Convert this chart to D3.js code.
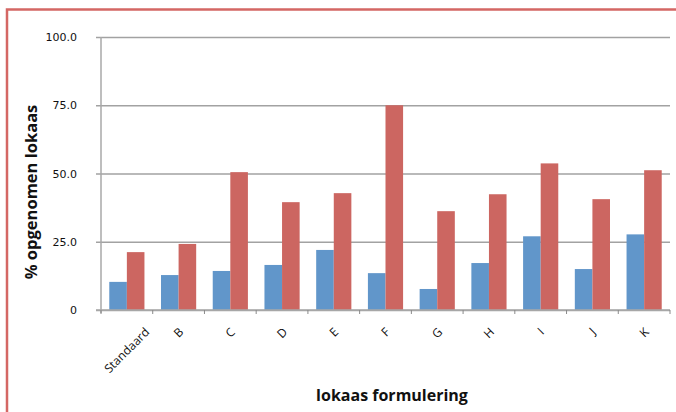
<!DOCTYPE html>
<html>
<head>
<meta charset="utf-8">
<script src="https://cdn.jsdelivr.net/npm/d3@7"></script>
<style>
  html, body { margin: 0; padding: 0; background: #fff; }
  svg { display: block; }
</style>
</head>
<body>
<div id="chart"></div>
<script>
// categories and series
const CATEGORIES = ["Standaard","B","C","D","E","F","G","H","I","J","K"];
const SERIES_BLUE = [10.3, 12.8, 14.3, 16.5, 22.0, 13.5, 7.7, 17.2, 27.0, 15.0, 27.7];
const SERIES_RED  = [21.2, 24.2, 50.5, 39.5, 42.8, 75.0, 36.2, 42.4, 53.7, 40.6, 51.2];
const Y_TICKS     = [0, 25, 50, 75, 100];
const Y_TICK_TEXT = ["0", "25.0", "50.0", "75.0", "100.0"];

const COLORS = ["#6196ca", "#cc6661"];

const W = 676, H = 412;
const margin = { top: 37, right: 6, bottom: 102, left: 101 };
const iw = W - margin.left - margin.right;
const ih = H - margin.top - margin.bottom;

const svg = d3.select("#chart").append("svg")
  .attr("width", W).attr("height", H);

// outer red frame (runs off right / bottom edges)
svg.append("rect")
  .attr("x", 7).attr("y", 9.5)
  .attr("width", W + 20).attr("height", H + 20)
  .attr("fill", "none")
  .attr("stroke", "#d46764")
  .attr("stroke-width", 2.5);

const g = svg.append("g")
  .attr("transform", `translate(${margin.left},${margin.top})`);

const x = d3.scaleBand().domain(CATEGORIES).range([0, iw])
  .paddingInner(0.32).paddingOuter(0.16);
const xs = d3.scaleBand().domain([0, 1]).range([0, x.bandwidth()]);
const y = d3.scaleLinear().domain([0, 100]).range([ih, 0]);

// grid lines
g.append("g").attr("class", "grid")
  .call(d3.axisLeft(y).tickValues(Y_TICKS).tickSize(-iw).tickFormat(""))
  .call(s => s.select(".domain").remove())
  .call(s => s.selectAll("line")
    .attr("stroke", "#a2a2a2").attr("stroke-width", 1.5)
    .attr("x2", iw).attr("x1", -5));

// y axis labels
g.append("g").attr("class", "y-axis")
  .call(d3.axisLeft(y).tickValues(Y_TICKS).tickSize(0).tickPadding(24)
    .tickFormat((d, i) => Y_TICK_TEXT[i]))
  .call(s => s.select(".domain").remove())
  .selectAll("text")
  .style("font-family", "'DejaVu Sans', sans-serif")
  .style("font-size", "11px")
  .style("fill", "#111");

// bars
const groups = g.selectAll(".cat").data(CATEGORIES).join("g")
  .attr("class", "cat")
  .attr("transform", d => `translate(${x(d)},0)`);

groups.selectAll("rect")
  .data((d, i) => [SERIES_BLUE[i], SERIES_RED[i]])
  .join("rect")
  .attr("x", (d, j) => xs(j))
  .attr("width", xs.bandwidth())
  .attr("y", d => y(d))
  .attr("height", d => y(0) - y(d))
  .attr("fill", (d, j) => COLORS[j]);

// y axis line
g.append("line")
  .attr("x1", 0).attr("x2", 0)
  .attr("y1", 0).attr("y2", ih + 3)
  .attr("stroke", "#a8a8a8").attr("stroke-width", 1.5);

// x axis line and boundary ticks
g.append("line")
  .attr("x1", -5).attr("x2", iw)
  .attr("y1", ih).attr("y2", ih)
  .attr("stroke", "#a8a8a8").attr("stroke-width", 1.5);

const step = x.step();
const bounds = d3.range(CATEGORIES.length + 1).map(i => x(CATEGORIES[0]) - x.paddingOuter() * step + i * step);
g.selectAll(".xtick").data(bounds).join("line")
  .attr("class", "xtick")
  .attr("x1", d => d).attr("x2", d => d)
  .attr("y1", ih).attr("y2", ih + 4)
  .attr("stroke", "#8a8a8a").attr("stroke-width", 1);

// rotated category labels, centred on category
g.selectAll(".xlab").data(CATEGORIES).join("text")
  .attr("class", "xlab")
  .style("font-family", "'Open Sans', sans-serif")
  .style("font-size", "12px")
  .style("fill", "#111")
  .attr("text-anchor", "middle")
  .attr("dy", "0.35em")
  .text(d => d)
  .each(function (d) {
    const len = this.getComputedTextLength();
    const half = (len + 8) * Math.SQRT1_2 / 2;
    const cx = x(d) + x.bandwidth() / 2;
    d3.select(this).attr("transform", `translate(${cx},${ih + 17 + half}) rotate(-45)`);
  });

// axis titles
svg.append("text")
  .attr("transform", `translate(37,${margin.top + 155}) rotate(-90)`)
  .attr("text-anchor", "middle")
  .style("font-family", "'Open Sans', sans-serif")
  .style("font-weight", "bold")
  .style("font-size", "16.5px")
  .style("fill", "#111")
  .text("% opgenomen lokaas");

svg.append("text")
  .attr("x", 392).attr("y", 401)
  .attr("text-anchor", "middle")
  .style("font-family", "'Open Sans', sans-serif")
  .style("font-weight", "bold")
  .style("font-size", "16px")
  .style("fill", "#111")
  .text("lokaas formulering");
</script>
</body>
</html>
